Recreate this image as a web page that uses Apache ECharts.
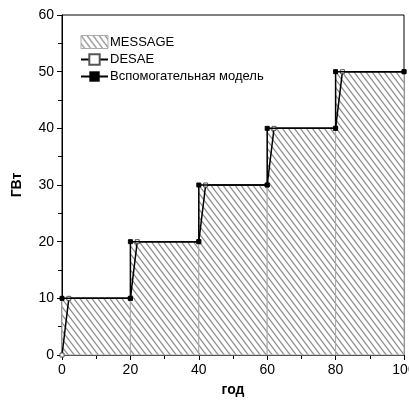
<!DOCTYPE html>
<html><head><meta charset="utf-8">
<script src="https://cdn.jsdelivr.net/npm/echarts@6/dist/echarts.min.js"></script>
<style>html,body{margin:0;padding:0;background:#fff}#c{width:409px;height:403px}</style>
</head><body><div id="c"></div>
<script>
// MESSAGE steps: [start, end, value]
var messageSteps = [[0,20,10],[20,40,20],[40,60,30],[60,80,40],[80,100,50]];
// DESAE
var desae = [[0,0],[2,10],[20,10],[22,20],[40,20],[42,30],[60,30],[62,40],[80,40],[82,50],[100,50]];
// Вспомогательная модель
var aux = [[0,10],[20,10],[20,20],[40,20],[40,30],[60,30],[60,40],[80,40],[80,50],[100,50]];
var seriesNames = ['MESSAGE','DESAE','Вспомогательная модель'];

function hatch(){
  var w=6,h=8,c=document.createElement('canvas');c.width=w;c.height=h;
  var g=c.getContext('2d');g.fillStyle='#fff';g.fillRect(0,0,w,h);
  g.strokeStyle='#8c8c8c';g.lineWidth=1.3;
  [[0,0],[-w,-h],[w,h],[w,0],[-w,0],[0,h],[0,-h]].forEach(function(o){
    g.beginPath();g.moveTo(o[0],o[1]);g.lineTo(o[0]+w,o[1]+h);g.stroke();
  });
  return c;
}
var pat={image:hatch(),repeat:'repeat'};
var font='"Liberation Sans Narrow","Liberation Sans",Arial,sans-serif';
var chart=echarts.init(document.getElementById('c'));
chart.setOption({
  animation:false,
  grid:{left:62,right:5,top:15,bottom:48,containLabel:false,outerBoundsMode:'none',show:true,borderColor:'#000',borderWidth:1,backgroundColor:'transparent'},
  legend:{left:75,top:30,orient:'vertical',itemGap:4,itemWidth:27,itemHeight:13,
    textStyle:{fontFamily:font,fontSize:13,color:'#000',padding:[0,0,0,-3]},
    data:[{name:seriesNames[0],icon:'rect',itemStyle:{color:pat,borderColor:'#aaa',borderWidth:1}},
          {name:seriesNames[1]},{name:seriesNames[2]}]},
  xAxis:{type:'value',min:0,max:100,interval:20,
    name:'год',nameLocation:'middle',nameGap:28,
    nameTextStyle:{fontFamily:font,fontSize:14,fontWeight:'bold',color:'#000'},
    axisLine:{lineStyle:{color:'#000'}},axisTick:{show:true,length:5,lineStyle:{color:'#000'}},
    minorTick:{show:true,splitNumber:2,length:4,lineStyle:{color:'#000'}},
    splitLine:{show:false},
    axisLabel:{fontFamily:font,fontSize:14,color:'#000',margin:8}},
  yAxis:{type:'value',min:0,max:60,interval:10,
    name:'ГВт',nameLocation:'middle',nameGap:38,nameRotate:90,
    nameTextStyle:{fontFamily:font,fontSize:14,fontWeight:'bold',color:'#000'},
    axisLine:{show:true,lineStyle:{color:'#000'}},axisTick:{show:true,length:5,lineStyle:{color:'#000'}},
    minorTick:{show:true,splitNumber:2,length:4,lineStyle:{color:'#000'}},
    splitLine:{show:false},
    axisLabel:{fontFamily:font,fontSize:14,color:'#000',margin:8}},
  series:[
    {name:seriesNames[0],type:'custom',data:messageSteps,z:1,
     itemStyle:{color:pat},
     renderItem:function(params,api){
       var p0=api.coord([api.value(0),api.value(2)]);
       var p1=api.coord([api.value(1),0]);
       return {type:'rect',shape:{x:p0[0],y:p0[1],width:p1[0]-p0[0],height:p1[1]-p0[1]},
         style:{fill:pat,stroke:'#aaa',lineWidth:1}};
     }},
    {name:seriesNames[1],type:'line',data:desae,z:3,
     lineStyle:{color:'#000',width:1.5},itemStyle:{color:'#fff',borderColor:'#555',borderWidth:1},
     symbol:'rect',symbolSize:4,showSymbol:true},
    {name:seriesNames[2],type:'line',data:aux,z:4,
     lineStyle:{color:'#000',width:1.5},itemStyle:{color:'#000',borderColor:'#000'},
     symbol:'rect',symbolSize:4,showSymbol:true}
  ]
});
</script></body></html>
